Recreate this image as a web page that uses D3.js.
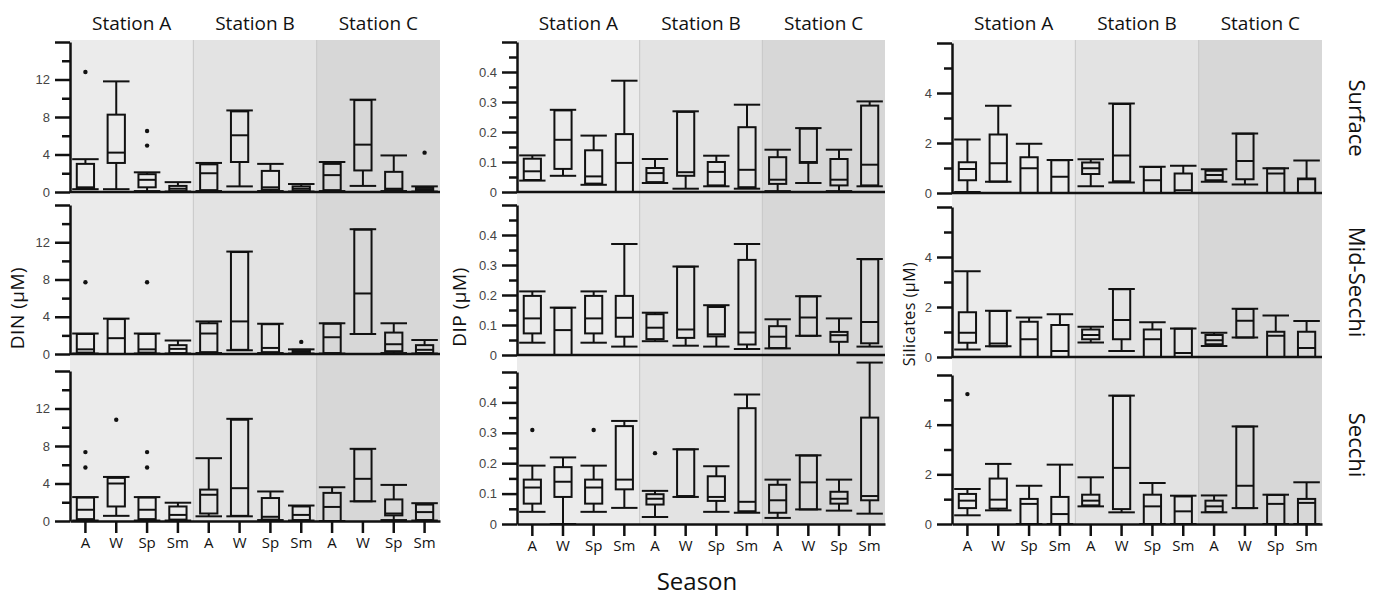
<!DOCTYPE html>
<html>
<head>
<meta charset="utf-8">
<script src="https://cdn.jsdelivr.net/npm/d3@7"></script>
<style>
  body { margin: 0; background: #fff; }
  svg { display: block; }
</style>
</head>
<body>
<div id="chart"></div>
<script>
// seasons and stations
var seasons = ["A", "W", "Sp", "Sm"];
var stations = ["Station A", "Station B", "Station C"];
var depths = ["Surface", "Mid-Secchi", "Secchi"];

// each box: [lowWhisker, q1, median, q3, highWhisker], 4 seasons x 3 stations
var dinSurface = [
  [0.3, 0.4, 0.5, 3.0, 3.5], [0.3, 3.1, 4.2, 8.25, 11.8], [0.1, 0.5, 1.3, 1.9, 2.1], [0.05, 0.1, 0.35, 0.65, 1.05],
  [0.1, 0.2, 2.0, 2.95, 3.1], [0.6, 3.2, 6.05, 8.6, 8.7], [0.1, 0.25, 0.5, 2.25, 3.0], [0.05, 0.15, 0.35, 0.6, 0.85],
  [0.1, 0.2, 1.8, 3.0, 3.2], [0.65, 2.3, 5.05, 9.8, 9.85], [0.1, 0.2, 0.35, 2.15, 3.9], [0.05, 0.15, 0.3, 0.45, 0.6]
];
var dinMid = [
  [0.05, 0.15, 0.5, 2.15, 2.2], [0, 0, 1.7, 3.75, 3.8], [0.05, 0.15, 0.5, 2.15, 2.2], [0.05, 0.1, 0.55, 0.95, 1.45],
  [0.1, 0.2, 2.2, 3.3, 3.5], [0.4, 0.45, 3.5, 10.95, 11.0], [0.1, 0.2, 0.65, 3.2, 3.25], [0.05, 0.1, 0.3, 0.45, 0.5],
  [0.05, 0.1, 1.8, 3.25, 3.3], [2.15, 2.15, 6.5, 13.35, 13.4], [0.1, 0.3, 1.05, 2.3, 3.3], [0.05, 0.1, 0.45, 0.95, 1.5]
];
var dinSecchi = [
  [0.05, 0.2, 1.2, 2.5, 2.55], [0.55, 1.55, 4.0, 4.6, 4.7], [0.05, 0.2, 1.2, 2.5, 2.55], [0.05, 0.15, 0.65, 1.55, 1.95],
  [0.5, 0.8, 2.8, 3.35, 6.7], [0.5, 0.55, 3.5, 10.8, 10.9], [0.1, 0.15, 0.45, 2.45, 3.15], [0.05, 0.1, 0.65, 1.55, 1.65],
  [0, 0, 1.5, 3.0, 3.6], [2.1, 2.1, 4.5, 7.65, 7.7], [0.1, 0.6, 0.8, 2.3, 3.85], [0.05, 0.1, 0.95, 1.75, 1.9]
];
var dipSurface = [
  [0.038, 0.04, 0.069, 0.111, 0.122], [0.054, 0.077, 0.174, 0.272, 0.274], [0.024, 0.028, 0.052, 0.139, 0.188], [0, 0, 0.097, 0.193, 0.371],
  [0.03, 0.033, 0.063, 0.08, 0.11], [0.011, 0.054, 0.066, 0.267, 0.269], [0.019, 0.022, 0.067, 0.1, 0.121], [0.011, 0.016, 0.074, 0.216, 0.291],
  [0.003, 0.027, 0.041, 0.116, 0.141], [0.03, 0.097, 0.1, 0.211, 0.213], [0.003, 0.022, 0.041, 0.11, 0.141], [0.019, 0.022, 0.091, 0.288, 0.302]
];
var dipMid = [
  [0.041, 0.072, 0.122, 0.197, 0.212], [0, 0, 0.083, 0.157, 0.158], [0.041, 0.072, 0.122, 0.197, 0.212], [0.028, 0.061, 0.124, 0.197, 0.37],
  [0.046, 0.053, 0.091, 0.136, 0.141], [0.031, 0.057, 0.085, 0.294, 0.295], [0.028, 0.062, 0.069, 0.16, 0.166], [0.02, 0.035, 0.075, 0.317, 0.37],
  [0.022, 0.023, 0.061, 0.096, 0.119], [0.064, 0.064, 0.125, 0.195, 0.196], [0, 0.044, 0.066, 0.077, 0.122], [0.028, 0.039, 0.11, 0.319, 0.32]
];
var dipSecchi = [
  [0.04, 0.067, 0.12, 0.146, 0.192], [0, 0.089, 0.139, 0.187, 0.219], [0.04, 0.067, 0.12, 0.146, 0.192], [0.053, 0.114, 0.146, 0.322, 0.339],
  [0.023, 0.064, 0.083, 0.098, 0.109], [0.089, 0.089, 0.092, 0.245, 0.246], [0.04, 0.076, 0.089, 0.157, 0.19], [0.037, 0.042, 0.073, 0.381, 0.426],
  [0.02, 0.037, 0.078, 0.129, 0.146], [0.048, 0.048, 0.137, 0.225, 0.226], [0.044, 0.067, 0.083, 0.106, 0.146], [0.034, 0.078, 0.092, 0.35, 0.531]
];
var siSurface = [
  [0.04, 0.51, 0.96, 1.23, 2.14], [0.45, 0.46, 1.19, 2.34, 3.49], [0, 0, 0.99, 1.43, 1.97], [0, 0, 0.65, 1.31, 1.32],
  [0.27, 0.76, 0.99, 1.22, 1.35], [0.42, 0.47, 1.5, 3.56, 3.58], [0, 0, 0.51, 1.04, 1.05], [0, 0, 0.11, 0.78, 1.09],
  [0.45, 0.51, 0.72, 0.89, 0.95], [0.34, 0.55, 1.28, 2.37, 2.38], [0, 0, 0.78, 0.98, 0.99], [0, 0, 0.55, 0.58, 1.3]
];
var siMid = [
  [0.3, 0.57, 0.97, 1.79, 3.43], [0.43, 0.43, 0.54, 1.84, 1.85], [0, 0, 0.71, 1.41, 1.58], [0, 0, 0.24, 1.28, 1.71],
  [0.58, 0.71, 0.88, 1.1, 1.21], [0.24, 0.71, 1.48, 2.71, 2.72], [0, 0, 0.71, 1.1, 1.39], [0, 0, 0.16, 1.13, 1.14],
  [0.44, 0.51, 0.67, 0.88, 0.97], [0.78, 0.78, 1.45, 1.92, 1.93], [0, 0, 0.85, 1.01, 1.66], [0, 0, 0.36, 1.01, 1.44]
];
var siSecchi = [
  [0.35, 0.64, 0.94, 1.21, 1.41], [0.55, 0.62, 0.98, 1.83, 2.42], [0, 0, 0.81, 1.01, 1.54], [0, 0, 0.4, 1.09, 2.39],
  [0.71, 0.75, 0.94, 1.18, 1.88], [0.47, 0.6, 2.26, 5.16, 5.17], [0, 0, 0.71, 1.18, 1.65], [0, 0, 0.51, 1.11, 1.14],
  [0.47, 0.48, 0.71, 0.94, 1.15], [0.64, 0.64, 1.54, 3.92, 3.93], [0, 0, 0.81, 1.17, 1.18], [0, 0, 0.85, 1.01, 1.68]
];

// outliers: [box index, value]
var dinSurfaceOut = [[0, 12.8], [2, 6.5], [2, 4.95], [11, 4.2]];
var dinMidOut = [[0, 7.7], [2, 7.7], [7, 1.3]];
var dinSecchiOut = [[0, 7.35], [0, 5.7], [1, 10.8], [2, 7.35], [2, 5.7]];
var dipSecchiOut = [[0, 0.309], [2, 0.309], [4, 0.233]];
var siSecchiOut = [[0, 5.23]];

// tick values
var dinMajor = [0, 4, 8, 12, 16], dinMinor = [2, 6, 10, 14];
var dipMajor = [0, 0.1, 0.2, 0.3, 0.4, 0.5], dipMinor = [0.05, 0.15, 0.25, 0.35, 0.45];
var siMajor = [0, 2, 4, 6], siMinor = [1, 3, 5];

var stationFill = ["#ebebeb", "#e3e3e3", "#d7d7d7"];

var width = 1373, height = 600;
var svg = d3.select("#chart").append("svg")
  .attr("width", width).attr("height", height);
svg.append("rect").attr("width", width).attr("height", height).attr("fill", "#fff");

var keys = [];
stations.forEach(function (s, si) {
  seasons.forEach(function (se) { keys.push(si + "-" + se); });
});

var panels = [
  { title: "DIN (µM)", x0: 70, x1: 440, max: 16, major: dinMajor, minor: dinMinor,
    rows: [[42, 192], [205, 354], [371, 521]],
    data: [dinSurface, dinMid, dinSecchi], out: [dinSurfaceOut, dinMidOut, dinSecchiOut],
    labX: 17, labY: 308, labSize: 19 },
  { title: "DIP (µM)", x0: 517, x1: 885, max: 0.5, major: dipMajor, minor: dipMinor,
    rows: [[42, 192], [205, 355], [372, 524]],
    data: [dipSurface, dipMid, dipSecchi], out: [[], [], dipSecchiOut],
    labX: 459, labY: 307, labSize: 19 },
  { title: "Silicates (µM)", x0: 952, x1: 1322, max: 6, major: siMajor, minor: siMinor,
    rows: [[43, 193], [207, 357], [375, 524]],
    data: [siSurface, siMid, siSecchi], out: [[], [], siSecchiOut],
    labX: 909, labY: 314, labSize: 16 }
];

panels.forEach(function (p) {
  var g = svg.append("g");
  var x = d3.scaleBand().domain(keys).range([p.x0, p.x1]).padding(0);
  var bw = x.bandwidth();
  var boxW = bw * 0.56, capW = bw * 0.86;
  var top = 40, bottom = p.rows[2][1];

  // station backgrounds
  stations.forEach(function (s, si) {
    var xs = x(si + "-A"), xe = x(si + "-Sm") + bw;
    g.append("rect")
      .attr("x", xs).attr("y", top)
      .attr("width", xe - xs).attr("height", bottom - top)
      .attr("fill", stationFill[si]);
    if (si > 0) {
      g.append("line")
        .attr("x1", xs).attr("x2", xs).attr("y1", top).attr("y2", bottom)
        .attr("stroke", "#c6c6c6").attr("stroke-width", 1);
    }
    // station title
    svg.append("text")
      .attr("x", (xs + xe) / 2).attr("y", 30)
      .attr("text-anchor", "middle")
      .style("font-family", "'Open Sans', sans-serif")
      .style("font-size", "19px")
      .attr("fill", "#111")
      .text(s);
  });

  p.rows.forEach(function (r, ri) {
    var y = d3.scaleLinear().domain([0, p.max]).range([r[1], r[0]]);

    // minor ticks
    g.append("g")
      .attr("transform", "translate(" + p.x0 + ",0)")
      .call(d3.axisLeft(y).tickValues(p.minor).tickSize(8).tickFormat(""))
      .call(function (a) { a.select(".domain").remove(); })
      .selectAll("line").attr("stroke", "#111").attr("stroke-width", 2.5);

    // major ticks + labels
    var ax = g.append("g")
      .attr("transform", "translate(" + p.x0 + ",0)")
      .call(d3.axisLeft(y).tickValues(p.major).tickSize(15).tickSizeOuter(0).tickPadding(5)
        .tickFormat(function (d) { return d === p.max ? "" : d; }));
    ax.select(".domain").attr("stroke", "#111").attr("stroke-width", 2.5);
    ax.selectAll("line").attr("stroke", "#111").attr("stroke-width", 2.5);
    ax.selectAll("text")
      .style("font-family", "'Liberation Sans', Arial, sans-serif")
      .style("font-size", "13px").attr("fill", "#444");

    // boxes
    var rows = p.data[ri];
    var bx = g.append("g").selectAll("g").data(rows).enter().append("g")
      .attr("transform", function (d, i) { return "translate(" + (x(keys[i]) + bw / 2) + ",0)"; });
    // whiskers (outside the box only)
    bx.append("line")
      .attr("y1", function (d) { return y(d[0]); }).attr("y2", function (d) { return y(d[1]); })
      .attr("stroke", "#111").attr("stroke-width", 2);
    bx.append("line")
      .attr("y1", function (d) { return y(d[3]); }).attr("y2", function (d) { return y(d[4]); })
      .attr("stroke", "#111").attr("stroke-width", 2);
    bx.append("rect")
      .attr("x", -boxW / 2).attr("width", boxW)
      .attr("y", function (d) { return y(d[3]); })
      .attr("height", function (d) { return y(d[1]) - y(d[3]); })
      .attr("fill", "none").attr("stroke", "#111").attr("stroke-width", 2);
    [0, 2, 4].forEach(function (k) {
      bx.append("line")
        .attr("x1", k === 2 ? -boxW / 2 : -capW / 2).attr("x2", k === 2 ? boxW / 2 : capW / 2)
        .attr("y1", function (d) { return y(d[k]); }).attr("y2", function (d) { return y(d[k]); })
        .attr("stroke", "#111").attr("stroke-width", 2);
    });

    // outliers
    g.append("g").selectAll("circle").data(p.out[ri]).enter().append("circle")
      .attr("cx", function (d) { return x(keys[d[0]]) + bw / 2; })
      .attr("cy", function (d) { return y(d[1]); })
      .attr("r", 2.2).attr("fill", "#111");

    // x baseline / category axis
    if (ri < 2) {
      g.append("line")
        .attr("x1", p.x0).attr("x2", p.x1).attr("y1", y(0)).attr("y2", y(0))
        .attr("stroke", "#111").attr("stroke-width", 2.5);
    } else {
      var xa = g.append("g")
        .attr("transform", "translate(0," + y(0) + ")")
        .call(d3.axisBottom(x).tickSize(12).tickSizeOuter(0).tickPadding(4)
          .tickFormat(function (k) { return k.split("-")[1]; }));
      xa.select(".domain").attr("stroke", "#111").attr("stroke-width", 2.5);
      xa.selectAll("line").attr("stroke", "#111").attr("stroke-width", 2.5);
      xa.selectAll("text")
        .style("font-family", "'Liberation Sans Narrow', 'Open Sans', sans-serif")
        .style("font-size", "15px").attr("fill", "#111");
    }
  });

  // y axis title
  svg.append("text")
    .attr("transform", "translate(" + p.labX + "," + p.labY + ") rotate(-90)")
    .attr("text-anchor", "middle").attr("dy", "0.35em")
    .style("font-family", "'Open Sans', sans-serif")
    .style("font-size", p.labSize + "px")
    .style("letter-spacing", "0.5px")
    .attr("fill", "#111")
    .text(p.title);
});

// depth labels on right
var depthY = [118, 282, 445];
depths.forEach(function (d, i) {
  svg.append("text")
    .attr("transform", "translate(1357," + depthY[i] + ") rotate(90)")
    .attr("text-anchor", "middle").attr("dy", "0.35em")
    .style("font-family", "'Open Sans', sans-serif")
    .style("font-size", "22px").attr("fill", "#111")
    .text(d);
});

svg.append("text")
  .attr("x", 697).attr("y", 590)
  .attr("text-anchor", "middle")
  .style("font-family", "'Open Sans', sans-serif")
  .style("font-size", "24px").attr("fill", "#111")
  .text("Season");
</script>
</body>
</html>
